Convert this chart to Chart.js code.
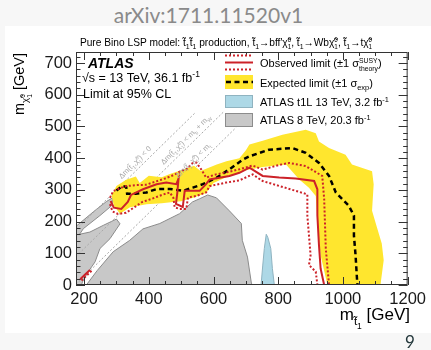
<!DOCTYPE html>
<html lang="en">
<head>
  <meta charset="UTF-8">
  <title>Pure Bino LSP limits</title>
  <script src="https://cdn.jsdelivr.net/npm/chart.js"></script>
  <style>
    body {
      margin: 0;
      width: 431px;
      height: 350px;
      overflow: hidden;
      background: #f7f7f7;
      position: relative;
    }
    #head {
      position: absolute;
      left: 0;
      top: 4px;
      width: 417px;
      text-align: center;
      font: 21px Lato, sans-serif;
      color: #8a8a8a;
      line-height: 1;
    }
    #fig {
      position: absolute;
      left: 5px;
      top: 26px;
      width: 426px;
      height: 307px;
      background: #ffffff;
    }
    #page {
      position: absolute;
      left: 405px;
      top: 333px;
      font: 17px Lato, sans-serif;
      color: #23373b;
      line-height: 1;
    }
  </style>
</head>
<body>
  <div id="head">arXiv:1711.11520v1</div>
  <div id="fig"><canvas id="grafico" width="426" height="307" style="width:426px;height:307px"></canvas></div>
  <div id="page">9</div>

  <script>
    // axis ticks
    const xTicks = [200, 400, 600, 800, 1000, 1200];
    const yTicks = [0, 100, 200, 300, 400, 500, 600, 700];

    // contours, [m_stop, m_chi] in GeV
    const atlas8Main = [[207,0],[240,45],[290,105],[340,140],[382,177],[434,194],[495,225],[535,262],[557,272],[582,284],[609,275],[649,234],[686,194],[689,141],[705,88],[717,6],[720,0],[207,0]];
    const atlas8Left = [[175,0],[175,185],[230,232],[270,264],[290,276],[285,250],[249,219],[198,178],[186,160],[218,167],[259,188],[300,208],[311,193],[280,146],[249,115],[234,73],[213,42],[195,10],[192,0],[175,0]];
    const t1L = [[747,0],[752,60],[757,115],[763,160],[768,150],[777,115],[782,52],[788,0],[747,0]];
    const expBand = [[285,282],[300,312],[330,332],[360,342],[372,322],[400,345],[440,340],[465,350],[500,362],[540,376],[560,360],[610,380],[640,390],[680,400],[700,425],[711,443],[752,455],[813,474],[885,490],[916,479],[926,453],[957,432],[1008,411],[1028,380],[1090,359],[1095,318],[1090,234],[1105,182],[1120,131],[1126,78],[1116,0],[952,0],[931,94],[921,198],[916,281],[895,307],[865,333],[824,380],[752,372],[700,362],[649,345],[600,322],[577,290],[540,276],[500,264],[475,262],[440,258],[393,255],[342,245],[311,225],[292,250],[285,282]];
    const expected = [[300,298],[318,312],[330,310],[333,288],[360,288],[393,292],[425,303],[465,303],[505,297],[536,307],[567,318],[609,338],[649,365],[690,395],[711,406],[772,427],[844,432],[885,417],[926,385],[957,344],[978,292],[1018,250],[1034,219],[1034,156],[1039,94],[1044,10],[1045,0]];
    const observed = [[282,265],[292,244],[315,240],[335,262],[345,284],[382,302],[424,318],[454,323],[485,318],[492,336],[488,290],[484,256],[505,246],[511,297],[557,297],[577,318],[588,333],[649,344],[680,354],[711,370],[752,344],[803,339],[854,336],[911,328],[921,302],[921,219],[926,125],[931,52],[942,0]];
    const obsUp = [[280,275],[290,296],[310,305],[330,312],[360,315],[390,316],[420,326],[450,336],[480,348],[500,360],[516,365],[535,384],[547,386],[562,365],[577,339],[608,349],[649,357],[680,365],[721,377],[752,364],[800,378],[834,385],[885,375],[936,344],[942,272],[947,115],[957,0]];
    const obsDown = [[280,255],[288,232],[305,224],[330,228],[355,245],[380,262],[410,272],[440,284],[465,292],[476,275],[480,245],[495,240],[516,240],[521,276],[547,281],[577,292],[588,312],[639,323],[680,330],[721,349],[752,328],[854,297],[890,286],[890,219],[900,94],[895,63],[916,42],[921,0]];
    const obsLow = [[188,18],[200,30],[218,47]];
    const obsLowDot = [[192,14],[206,28],[226,48]];

    // kinematic boundaries
    const diagZero = [[175,175],[545,545]];
    const diagMbMw = [[175,90],[630,545]];
    const diagMt = [[175,2],[670,497]];

    const toXY = a => a.map(p => ({ x: p[0], y: p[1] }));
    const F = '"Liberation Sans", Arial, sans-serif';

    // text with sub/superscripts: {s, sc, dy, s2, dy2}
    function rich(ctx, parts, x, y, size, align, font) {
      font = font || F;
      const ws = parts.map(p => {
        ctx.font = (size * (p.sc || 1)) + 'px ' + font;
        let w = ctx.measureText(p.s).width;
        if (p.s2) w = Math.max(w, ctx.measureText(p.s2).width);
        return w;
      });
      const total = ws.reduce((a, b) => a + b, 0);
      let cx = align === 'right' ? x - total : align === 'center' ? x - total / 2 : x;
      ctx.textAlign = 'left';
      ctx.textBaseline = 'alphabetic';
      parts.forEach((p, i) => {
        ctx.font = (size * (p.sc || 1)) + 'px ' + font;
        ctx.fillText(p.s, cx, y + (p.dy || 0) * size);
        if (p.s2) ctx.fillText(p.s2, cx, y + (p.dy2 || 0) * size);
        cx += ws[i];
      });
    }
    const n = s => ({ s: s });
    const sub = s => ({ s: s, sc: 0.68, dy: 0.3 });
    const sup = s => ({ s: s, sc: 0.68, dy: -0.4 });
    const both = (a, b) => ({ s: a, sc: 0.62, dy: -0.38, s2: b, dy2: 0.32 });

    const deco = {
      id: 'deco',
      afterDraw(chart) {
        const ctx = chart.ctx;
        const xs = chart.scales.x, ys = chart.scales.y;
        const a = chart.chartArea;
        ctx.save();

        // labels on kinematic lines
        ctx.fillStyle = '#a8a8a8';
        const diagLabels = [
          [diagZero, 325, [n('Δm('), n('t̃'), sub('1'), n(','), n('χ̃'), both('0', '1'), n(') < 0')]],
          [diagMbMw, 455, [n('Δm('), n('t̃'), sub('1'), n(','), n('χ̃'), both('0', '1'), n(') < m'), sub('b'), n(' + m'), sub('W')]],
          [diagMt, 500, [n('Δm('), n('t̃'), sub('1'), n(','), n('χ̃'), both('0', '1'), n(') < m'), sub('t')]]
        ];
        diagLabels.forEach(([line, xv, parts]) => {
          const k = (line[1][1] - line[0][1]) / (line[1][0] - line[0][0]);
          const yv = line[0][1] + (xv - line[0][0]) * k;
          const px = xs.getPixelForValue(xv), py = ys.getPixelForValue(yv);
          ctx.save();
          ctx.translate(px, py);
          ctx.rotate(-Math.PI / 4);
          rich(ctx, parts, 0, -4, 7.5, 'left');
          ctx.restore();
        });

        // frame and inward ticks
        ctx.strokeStyle = '#333';
        ctx.lineWidth = 1;
        ctx.strokeRect(a.left + 0.5, a.top + 0.5, a.right - a.left - 1, a.bottom - a.top - 1);
        ctx.beginPath();
        for (let v = 200; v <= 1200; v += 50) {
          const p = Math.round(xs.getPixelForValue(v)) + 0.5;
          const len = v % 200 === 0 ? 8 : 4;
          ctx.moveTo(p, a.bottom); ctx.lineTo(p, a.bottom - len);
          ctx.moveTo(p, a.top); ctx.lineTo(p, a.top + len);
        }
        for (let v = 0; v <= 720; v += 20) {
          const p = Math.round(ys.getPixelForValue(v)) + 0.5;
          const len = v % 100 === 0 ? 9 : 4.5;
          ctx.moveTo(a.left, p); ctx.lineTo(a.left + len, p);
          ctx.moveTo(a.right, p); ctx.lineTo(a.right - len, p);
        }
        ctx.stroke();

        // title
        ctx.fillStyle = '#000';
        rich(ctx, [n('Pure Bino LSP model: '), n('t̃'), sub('1'), n('t̃'), sub('1'), n(' production, '),
          n('t̃'), sub('1'), n('→bff\'χ̃'), both('0', '1'), n(', '), n('t̃'), sub('1'), n('→Wbχ̃'), both('0', '1'),
          n(', '), n('t̃'), sub('1'), n('→tχ̃'), both('0', '1')], 221, 20, 10.2, 'center');

        // ATLAS label
        ctx.font = 'italic bold 14px ' + F;
        ctx.textAlign = 'left';
        ctx.fillText('ATLAS', 83, 42);
        rich(ctx, [n('√s = 13 TeV, 36.1 fb'), sup('-1')], 77, 56, 12.5, 'left');
        rich(ctx, [n('Limit at 95% CL')], 78, 72, 12.5, 'left');

        // legend
        const lx0 = 220, lx1 = 248, tx = 255;
        ctx.strokeStyle = '#cc2229';
        ctx.lineWidth = 2;
        ctx.setLineDash([2, 2]);
        ctx.beginPath();
        ctx.moveTo(lx0, 29.5); ctx.lineTo(lx1, 29.5);
        ctx.moveTo(lx0, 43.5); ctx.lineTo(lx1, 43.5);
        ctx.stroke();
        ctx.setLineDash([]);
        ctx.beginPath();
        ctx.moveTo(lx0, 36.5); ctx.lineTo(lx1, 36.5);
        ctx.stroke();
        ctx.fillStyle = '#000';
        rich(ctx, [n('Observed limit (±1 σ'), both('SUSY', 'theory'), n(')')], tx, 41, 11, 'left');

        ctx.fillStyle = '#ffe62e';
        ctx.fillRect(lx0, 49, lx1 - lx0, 14);
        ctx.strokeStyle = '#000';
        ctx.lineWidth = 2.5;
        ctx.setLineDash([5, 3.5]);
        ctx.beginPath();
        ctx.moveTo(lx0 + 1, 56); ctx.lineTo(lx1, 56);
        ctx.stroke();
        ctx.setLineDash([]);
        ctx.fillStyle = '#000';
        rich(ctx, [n('Expected limit (±1 σ'), sub('exp'), n(')')], tx, 61, 11, 'left');

        ctx.lineWidth = 1;
        ctx.fillStyle = '#add8e6';
        ctx.strokeStyle = '#8fb3c0';
        ctx.fillRect(lx0, 69, lx1 - lx0, 13);
        ctx.strokeRect(lx0 + 0.5, 69.5, lx1 - lx0 - 1, 12);
        ctx.fillStyle = '#000';
        rich(ctx, [n('ATLAS t1L 13 TeV, 3.2 fb'), sup('-1')], tx, 80, 11, 'left');

        ctx.fillStyle = '#c8c8c8';
        ctx.strokeStyle = '#8c8c8c';
        ctx.fillRect(lx0, 87, lx1 - lx0, 14);
        ctx.strokeRect(lx0 + 0.5, 87.5, lx1 - lx0 - 1, 13);
        ctx.fillStyle = '#000';
        rich(ctx, [n('ATLAS 8 TeV, 20.3 fb'), sup('-1')], tx, 98, 11, 'left');

        // axis titles
        ctx.fillStyle = '#000';
        rich(ctx, [n('m'), { s: 't̃', sc: 0.68, dy: 0.32 }, { s: '1', sc: 0.5, dy: 0.55 }, n(' [GeV]')], 405, 294, 17, 'right');
        ctx.save();
        ctx.translate(19, 27);
        ctx.rotate(-Math.PI / 2);
        rich(ctx, [n('m'), { s: 'χ̃', sc: 0.68, dy: 0.3 }, { s: '0', sc: 0.45, dy: 0.08, s2: '1', dy2: 0.55 }, n(' [GeV]')], 0, 0, 14.5, 'right');
        ctx.restore();

        ctx.restore();
      }
    };

    const ds = (data, o) => Object.assign({
      data: toXY(data), showLine: true, pointRadius: 0, tension: 0, fill: false, borderWidth: 2
    }, o);

    const datasets = [
      ds(observed, { borderColor: '#cc2229', order: 1 }),
      ds(obsLow, { borderColor: '#cc2229', order: 1 }),
      ds(obsUp, { borderColor: '#cc2229', borderDash: [2, 2], order: 2 }),
      ds(obsDown, { borderColor: '#cc2229', borderDash: [2, 2], order: 2 }),
      ds(obsLowDot, { borderColor: '#cc2229', borderDash: [2, 2], order: 2 }),
      ds(expected, { borderColor: '#000', borderWidth: 2.5, borderDash: [5, 3.5], order: 3 }),
      ds(expBand, { borderColor: 'rgba(0,0,0,0)', borderWidth: 0, backgroundColor: '#ffe62e', fill: 'shape', order: 4 }),
      ds(diagZero, { borderColor: '#a8a8a8', borderWidth: 1, borderDash: [2, 2], order: 5 }),
      ds(diagMbMw, { borderColor: '#a8a8a8', borderWidth: 1, borderDash: [2, 2], order: 5 }),
      ds(diagMt, { borderColor: '#a8a8a8', borderWidth: 1, borderDash: [2, 2], order: 5 }),
      ds(t1L, { borderColor: '#8fb3c0', borderWidth: 1, backgroundColor: '#add8e6', fill: 'shape', order: 6 }),
      ds(atlas8Main, { borderColor: '#8c8c8c', borderWidth: 1, backgroundColor: '#c8c8c8', fill: 'shape', order: 7 }),
      ds(atlas8Left, { borderColor: '#8c8c8c', borderWidth: 1, backgroundColor: '#c8c8c8', fill: 'shape', order: 7 })
    ];

    const tickFont = { family: F, size: 16.5 };

    new Chart(document.getElementById('grafico'), {
      type: 'scatter',
      data: { datasets: datasets },
      options: {
        responsive: false,
        animation: false,
        devicePixelRatio: 1,
        layout: { padding: { left: 0, top: 26, right: 22, bottom: 0 } },
        plugins: { legend: { display: false }, tooltip: { enabled: false } },
        scales: {
          x: {
            type: 'linear', min: 175, max: 1200,
            grid: { display: false, drawTicks: false }, border: { display: false },
            ticks: { color: '#1a1a1a', font: tickFont, padding: 5, maxRotation: 0, callback: v => String(v) },
            afterBuildTicks: s => { s.ticks = xTicks.map(v => ({ value: v })); },
            afterFit: s => { s.height = 48; }
          },
          y: {
            type: 'linear', min: 0, max: 735,
            grid: { display: false, drawTicks: false }, border: { display: false },
            ticks: { color: '#1a1a1a', font: tickFont, padding: 4, callback: v => String(v) },
            afterBuildTicks: s => { s.ticks = yTicks.map(v => ({ value: v })); },
            afterFit: s => { s.width = 71; }
          }
        }
      },
      plugins: [deco]
    });
  </script>
</body>
</html>
